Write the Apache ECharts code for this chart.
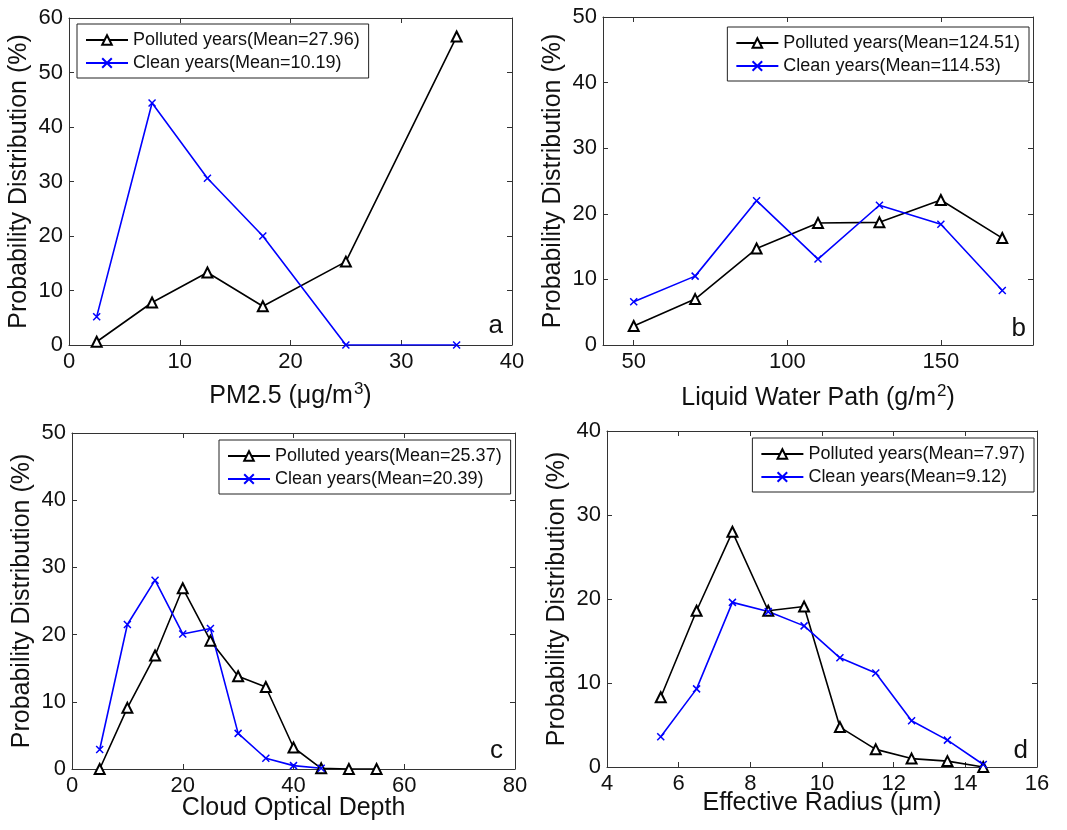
<!DOCTYPE html>
<html><head><meta charset="utf-8">
<script src="https://cdn.jsdelivr.net/npm/echarts@6/dist/echarts.min.js"></script>
<style>html,body{margin:0;padding:0;background:#fff}#c{width:1067px;height:830px}</style>
</head><body><div id="c"></div>
<script>
// ---- data ----
const pm25X = [2.5, 7.5, 12.5, 17.5, 25, 35];
const pm25Polluted = [0.6, 7.8, 13.3, 7.1, 15.3, 56.6];
const pm25Clean = [5.2, 44.4, 30.6, 20.0, 0, 0];

const lwpX = [50, 70, 90, 110, 130, 150, 170];
const lwpPolluted = [2.9, 7.0, 14.7, 18.6, 18.7, 22.1, 16.3];
const lwpClean = [6.6, 10.5, 22.0, 13.1, 21.3, 18.4, 8.3];

const codX = [5, 10, 15, 20, 25, 30, 35, 40, 45, 50, 55];
const codPolluted = [0, 9.1, 16.9, 26.9, 19.1, 13.8, 12.2, 3.2, 0.1, 0, 0];
const codClean = [2.9, 21.5, 28.1, 20.1, 20.9, 5.3, 1.6, 0.5, 0.1];

const reX = [5.5, 6.5, 7.5, 8.5, 9.5, 10.5, 11.5, 12.5, 13.5, 14.5];
const rePolluted = [8.3, 18.6, 28.0, 18.6, 19.1, 4.75, 2.1, 1.0, 0.7, 0];
const reClean = [3.6, 9.3, 19.6, 18.5, 16.8, 13.0, 11.2, 5.5, 3.2, 0.3];

const pollutedNames = ['Polluted years(Mean=27.96)', 'Polluted years(Mean=124.51)', 'Polluted years(Mean=25.37)', 'Polluted years(Mean=7.97)'];
const cleanNames = ['Clean years(Mean=10.19)', 'Clean years(Mean=114.53)', 'Clean years(Mean=20.39)', 'Clean years(Mean=9.12)'];
const xTitles = ['PM2.5 (\u03bcg/m{sup|3})', 'Liquid Water Path (g/m{sup|2})', 'Cloud Optical Depth', 'Effective Radius (\u03bcm)'];
const yTitle = 'Probability Distribution (%)';
const panelLetters = ['a', 'b', 'c', 'd'];

const xTicks = [[0, 10, 20, 30, 40], [50, 100, 150], [0, 20, 40, 60, 80], [4, 6, 8, 10, 12, 14, 16]];
const xRange = [[0, 40], [40, 180], [0, 80], [4, 16]];
const yTicks = [[0, 10, 20, 30, 40, 50, 60], [0, 10, 20, 30, 40, 50], [0, 10, 20, 30, 40, 50], [0, 10, 20, 30, 40]];

const xs = [pm25X, lwpX, codX, reX];
const pol = [pm25Polluted, lwpPolluted, codPolluted, rePolluted];
const cln = [pm25Clean, lwpClean, codClean, reClean];

// ---- layout / style ----
const FONT = "'Liberation Sans', Arial, sans-serif";
const AX = '#333';
const grids = [
  {left: 69, top: 18, width: 443, height: 327},
  {left: 603, top: 17, width: 430, height: 328},
  {left: 72, top: 433, width: 443, height: 336},
  {left: 607, top: 431, width: 430, height: 336}
];
const xNameGap = [36, 38, 27, 24];
const legendPos = [
  {left: 77, top: 24},
  {right: 38, top: 27},
  {left: 219, top: 440},
  {right: 33, top: 438}
];
const letterPos = [
  {right: 564, bottom: 491},
  {right: 41, bottom: 488},
  {right: 564, bottom: 66},
  {right: 39, bottom: 66}
];

const xAxes = [], yAxes = [], series = [], legends = [], graphics = [];
for (let i = 0; i < 4; i++) {
  const baseX = {
    type: 'value', gridIndex: i, min: xRange[i][0], max: xRange[i][1],
    splitLine: {show: false},
    axisLine: {show: true, onZero: false, lineStyle: {color: AX, width: 1}},
    axisTick: {show: true, inside: true, length: 5, customValues: xTicks[i], lineStyle: {color: AX}}
  };
  xAxes.push(Object.assign({}, baseX, {
    position: 'bottom',
    axisLabel: {customValues: xTicks[i], fontSize: 22, color: '#111', fontFamily: FONT, margin: 6},
    name: xTitles[i], nameLocation: 'middle', nameGap: xNameGap[i], nameMoveOverlap: false,
    nameTextStyle: {fontSize: 25, color: '#111', fontFamily: FONT,
      rich: {sup: {fontSize: 17, color: '#111', fontFamily: FONT, padding: [0, 0, 14, 1]}}}
  }));
  xAxes.push(Object.assign({}, baseX, {position: 'top', axisLabel: {show: false}}));

  const baseY = {
    type: 'value', gridIndex: i, min: 0, max: yTicks[i][yTicks[i].length - 1],
    splitLine: {show: false},
    axisLine: {show: true, onZero: false, lineStyle: {color: AX, width: 1}},
    axisTick: {show: true, inside: true, length: 5, customValues: yTicks[i], lineStyle: {color: AX}}
  };
  yAxes.push(Object.assign({}, baseY, {
    position: 'left',
    axisLabel: {customValues: yTicks[i], fontSize: 22, color: '#111', fontFamily: FONT, margin: 6},
    name: yTitle, nameLocation: 'middle', nameGap: 37, nameMoveOverlap: false,
    nameTextStyle: {fontSize: 25, color: '#111', fontFamily: FONT}
  }));
  yAxes.push(Object.assign({}, baseY, {position: 'right', axisLabel: {show: false}}));

  series.push({
    type: 'line', name: pollutedNames[i], xAxisIndex: 2 * i, yAxisIndex: 2 * i,
    data: xs[i].map((x, k) => [x, pol[i][k]]),
    symbol: 'emptyTriangle', symbolSize: 10,
    lineStyle: {color: '#000', width: 1.6},
    itemStyle: {color: '#000', borderColor: '#000', borderWidth: 1.3},
    animation: false
  });
  series.push({
    type: 'line', name: cleanNames[i], xAxisIndex: 2 * i, yAxisIndex: 2 * i,
    data: cln[i].map((v, k) => [xs[i][k], v]),
    symbol: 'path://M0,0L10,10M10,0L0,10', symbolSize: 7,
    lineStyle: {color: '#0000ff', width: 1.6},
    itemStyle: {color: '#0000ff', borderColor: '#0000ff', borderWidth: 1.5},
    animation: false
  });

  legends.push(Object.assign({
    data: [pollutedNames[i], cleanNames[i]], orient: 'vertical',
    backgroundColor: '#fff', borderColor: '#222', borderWidth: 1,
    padding: [7, 9, 6, 8], itemWidth: 42, itemHeight: 12, itemGap: 5,
    selectedMode: false,
    textStyle: {fontSize: 18, color: '#111', fontFamily: FONT}
  }, legendPos[i]));

  graphics.push(Object.assign({
    type: 'text',
    style: {text: panelLetters[i], fontSize: 26, fill: '#111', fontFamily: FONT}
  }, letterPos[i]));
}

const chart = echarts.init(document.getElementById('c'));
chart.setOption({
  backgroundColor: '#fff',
  animation: false,
  grid: grids,
  xAxis: xAxes,
  yAxis: yAxes,
  legend: legends,
  series: series,
  graphic: graphics
});
</script>
</body></html>
